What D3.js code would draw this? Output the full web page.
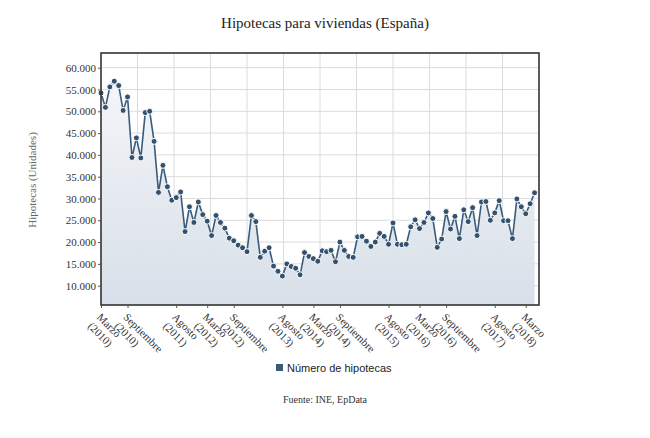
<!DOCTYPE html>
<html>
<head>
<meta charset="utf-8">
<script src="https://cdn.jsdelivr.net/npm/d3@7"></script>
<style>
  body { margin: 0; background: #fff; }
  svg { display: block; }
</style>
</head>
<body>
<div id="chart"></div>
<script>
// Monthly mortgages, March 2010 - May 2018
const values = [
  54200, 50900, 55600, 56900, 55900, 50200, 53300, 39400, 43900, 39300,
  49700, 50000, 43100, 31400, 37600, 32700, 29600, 30200, 31500, 22400,
  28100, 24500, 29200, 26300, 24800, 21500, 26100, 24500, 23200, 20900,
  20300, 19300, 18700, 17800, 26100, 24700, 16500, 17900, 18700, 14500,
  13300, 12200, 15000, 14400, 14000, 12500, 17600, 16700, 16200, 15600,
  18000, 17800, 18100, 15500, 20000, 18100, 16700, 16500, 21200, 21300,
  20200, 19000, 20000, 22000, 21300, 19500, 24400, 19500, 19400, 19500,
  23500, 25100, 23100, 24500, 26700, 25400, 18800, 20700, 27000, 23000,
  25900, 20800, 27400, 24700, 27900, 21500, 29200, 29300, 25000, 26700,
  29500, 24900, 24900, 20800, 29900, 28100, 26500, 28800, 31300
];

const tickIdx = [0, 6, 17, 24, 30, 41, 48, 54, 65, 72, 78, 89, 96];
const tickMonths = ["Marzo", "Septiembre", "Agosto", "Marzo", "Septiembre", "Agosto", "Marzo",
  "Septiembre", "Agosto", "Marzo", "Septiembre", "Agosto", "Marzo"];
const tickYears = ["2010", "2010", "2011", "2012", "2012", "2013", "2014",
  "2014", "2015", "2016", "2016", "2017", "2018"];
const yTicks = [10000, 15000, 20000, 25000, 30000, 35000, 40000, 45000, 50000, 55000, 60000];

const width = 650;
const height = 438;
const margin = {top: 53, right: 111, bottom: 133, left: 101};
const serif = "'Liberation Serif', 'Times New Roman', serif";

const svg = d3.select("#chart")
  .append("svg")
  .attr("width", width)
  .attr("height", height);

const x = d3.scaleLinear()
  .domain([0, 99])
  .range([margin.left, width - margin.right]);

const y = d3.scaleLinear()
  .domain([5570, 63370])
  .range([height - margin.bottom, margin.top]);

const es = d3.formatLocale({decimal: ",", thousands: ".", grouping: [3], currency: ["", "€"]});
const fmt = es.format(",d");

// gradient for the area
const grad = svg.append("defs").append("linearGradient")
  .attr("id", "areaGrad")
  .attr("gradientUnits", "userSpaceOnUse")
  .attr("x1", 0).attr("x2", 0)
  .attr("y1", margin.top).attr("y2", height - margin.bottom);
grad.append("stop").attr("offset", "0%").attr("stop-color", "#f7f8fa");
grad.append("stop").attr("offset", "100%").attr("stop-color", "#d6dee8");

// grid
svg.append("g")
  .selectAll("line")
  .data(yTicks)
  .join("line")
  .attr("x1", margin.left).attr("x2", width - margin.right)
  .attr("y1", d => y(d)).attr("y2", d => y(d))
  .attr("stroke", "#dcdcdc");

svg.append("g")
  .selectAll("line")
  .data(d3.range(1, 12))
  .join("line")
  .attr("x1", d => margin.left + d * (width - margin.left - margin.right) / 12)
  .attr("x2", d => margin.left + d * (width - margin.left - margin.right) / 12)
  .attr("y1", margin.top).attr("y2", height - margin.bottom)
  .attr("stroke", "#dcdcdc");

// area
const area = d3.area()
  .x((d, i) => x(i))
  .y0(height - margin.bottom)
  .y1(d => y(d));

svg.append("path")
  .datum(values)
  .attr("d", area)
  .attr("fill", "url(#areaGrad)")
  .attr("opacity", 0.95);

// line
const line = d3.line()
  .x((d, i) => x(i))
  .y(d => y(d));

svg.append("path")
  .datum(values)
  .attr("d", line)
  .attr("fill", "none")
  .attr("stroke", "#3b5b7c")
  .attr("stroke-width", 1.6);

// points
svg.append("g")
  .selectAll("circle")
  .data(values)
  .join("circle")
  .attr("cx", (d, i) => x(i))
  .attr("cy", d => y(d))
  .attr("r", 3)
  .attr("fill", "#34526f")
  .attr("stroke", "#fff")
  .attr("stroke-width", 1);

// frame
svg.append("rect")
  .attr("x", margin.left)
  .attr("y", margin.top)
  .attr("width", width - margin.left - margin.right)
  .attr("height", height - margin.top - margin.bottom)
  .attr("fill", "none")
  .attr("stroke", "#333")
  .attr("stroke-width", 1.6);

// Y axis
const yAxis = svg.append("g")
  .attr("transform", `translate(${margin.left},0)`)
  .call(d3.axisLeft(y).tickValues(yTicks).tickFormat(fmt).tickSize(3).tickPadding(2));
yAxis.select(".domain").remove();
yAxis.selectAll("text")
  .style("font-family", serif)
  .style("font-size", "11px")
  .attr("fill", "#333");
yAxis.selectAll("line").attr("stroke", "#555");

// X axis
const xAxis = svg.append("g")
  .attr("transform", `translate(0,${height - margin.bottom})`)
  .call(d3.axisBottom(x).tickValues(tickIdx).tickFormat("").tickSize(3));
xAxis.select(".domain").remove();
xAxis.selectAll("line").attr("stroke", "#555");

const xl = svg.append("g")
  .selectAll("text")
  .data(tickIdx)
  .join("text")
  .attr("transform", d => `translate(${x(d) + 1},${height - margin.bottom + 7}) rotate(45)`)
  .style("font-family", serif)
  .style("font-size", "11px")
  .attr("fill", "#333");
xl.append("tspan").attr("x", 0).attr("dy", "0.75em").text((d, i) => tickMonths[i]);
xl.append("tspan").attr("x", 0).attr("dy", "1.15em").text((d, i) => "(" + tickYears[i] + ")");

// title
svg.append("text")
  .attr("x", width / 2)
  .attr("y", 28)
  .attr("text-anchor", "middle")
  .style("font-family", serif)
  .style("font-size", "15px")
  .attr("fill", "#222")
  .text("Hipotecas para viviendas (España)");

// Y axis label
svg.append("text")
  .attr("transform", "rotate(-90)")
  .attr("x", -180)
  .attr("y", 36)
  .attr("text-anchor", "middle")
  .style("font-family", serif)
  .style("font-size", "11px")
  .attr("fill", "#666")
  .text("Hipotecas (Unidades)");

// legend
svg.append("rect")
  .attr("x", 276).attr("y", 364)
  .attr("width", 7).attr("height", 7)
  .attr("fill", "#3b5b7c");
svg.append("text")
  .attr("x", 287)
  .attr("y", 371.5)
  .style("font-family", "'Liberation Sans', Arial, sans-serif")
  .style("font-size", "11px")
  .attr("fill", "#222")
  .text("Número de hipotecas");

// source
svg.append("text")
  .attr("x", width / 2)
  .attr("y", 403)
  .attr("text-anchor", "middle")
  .style("font-family", serif)
  .style("font-size", "10px")
  .attr("fill", "#333")
  .text("Fuente: INE, EpData");
</script>
</body>
</html>
